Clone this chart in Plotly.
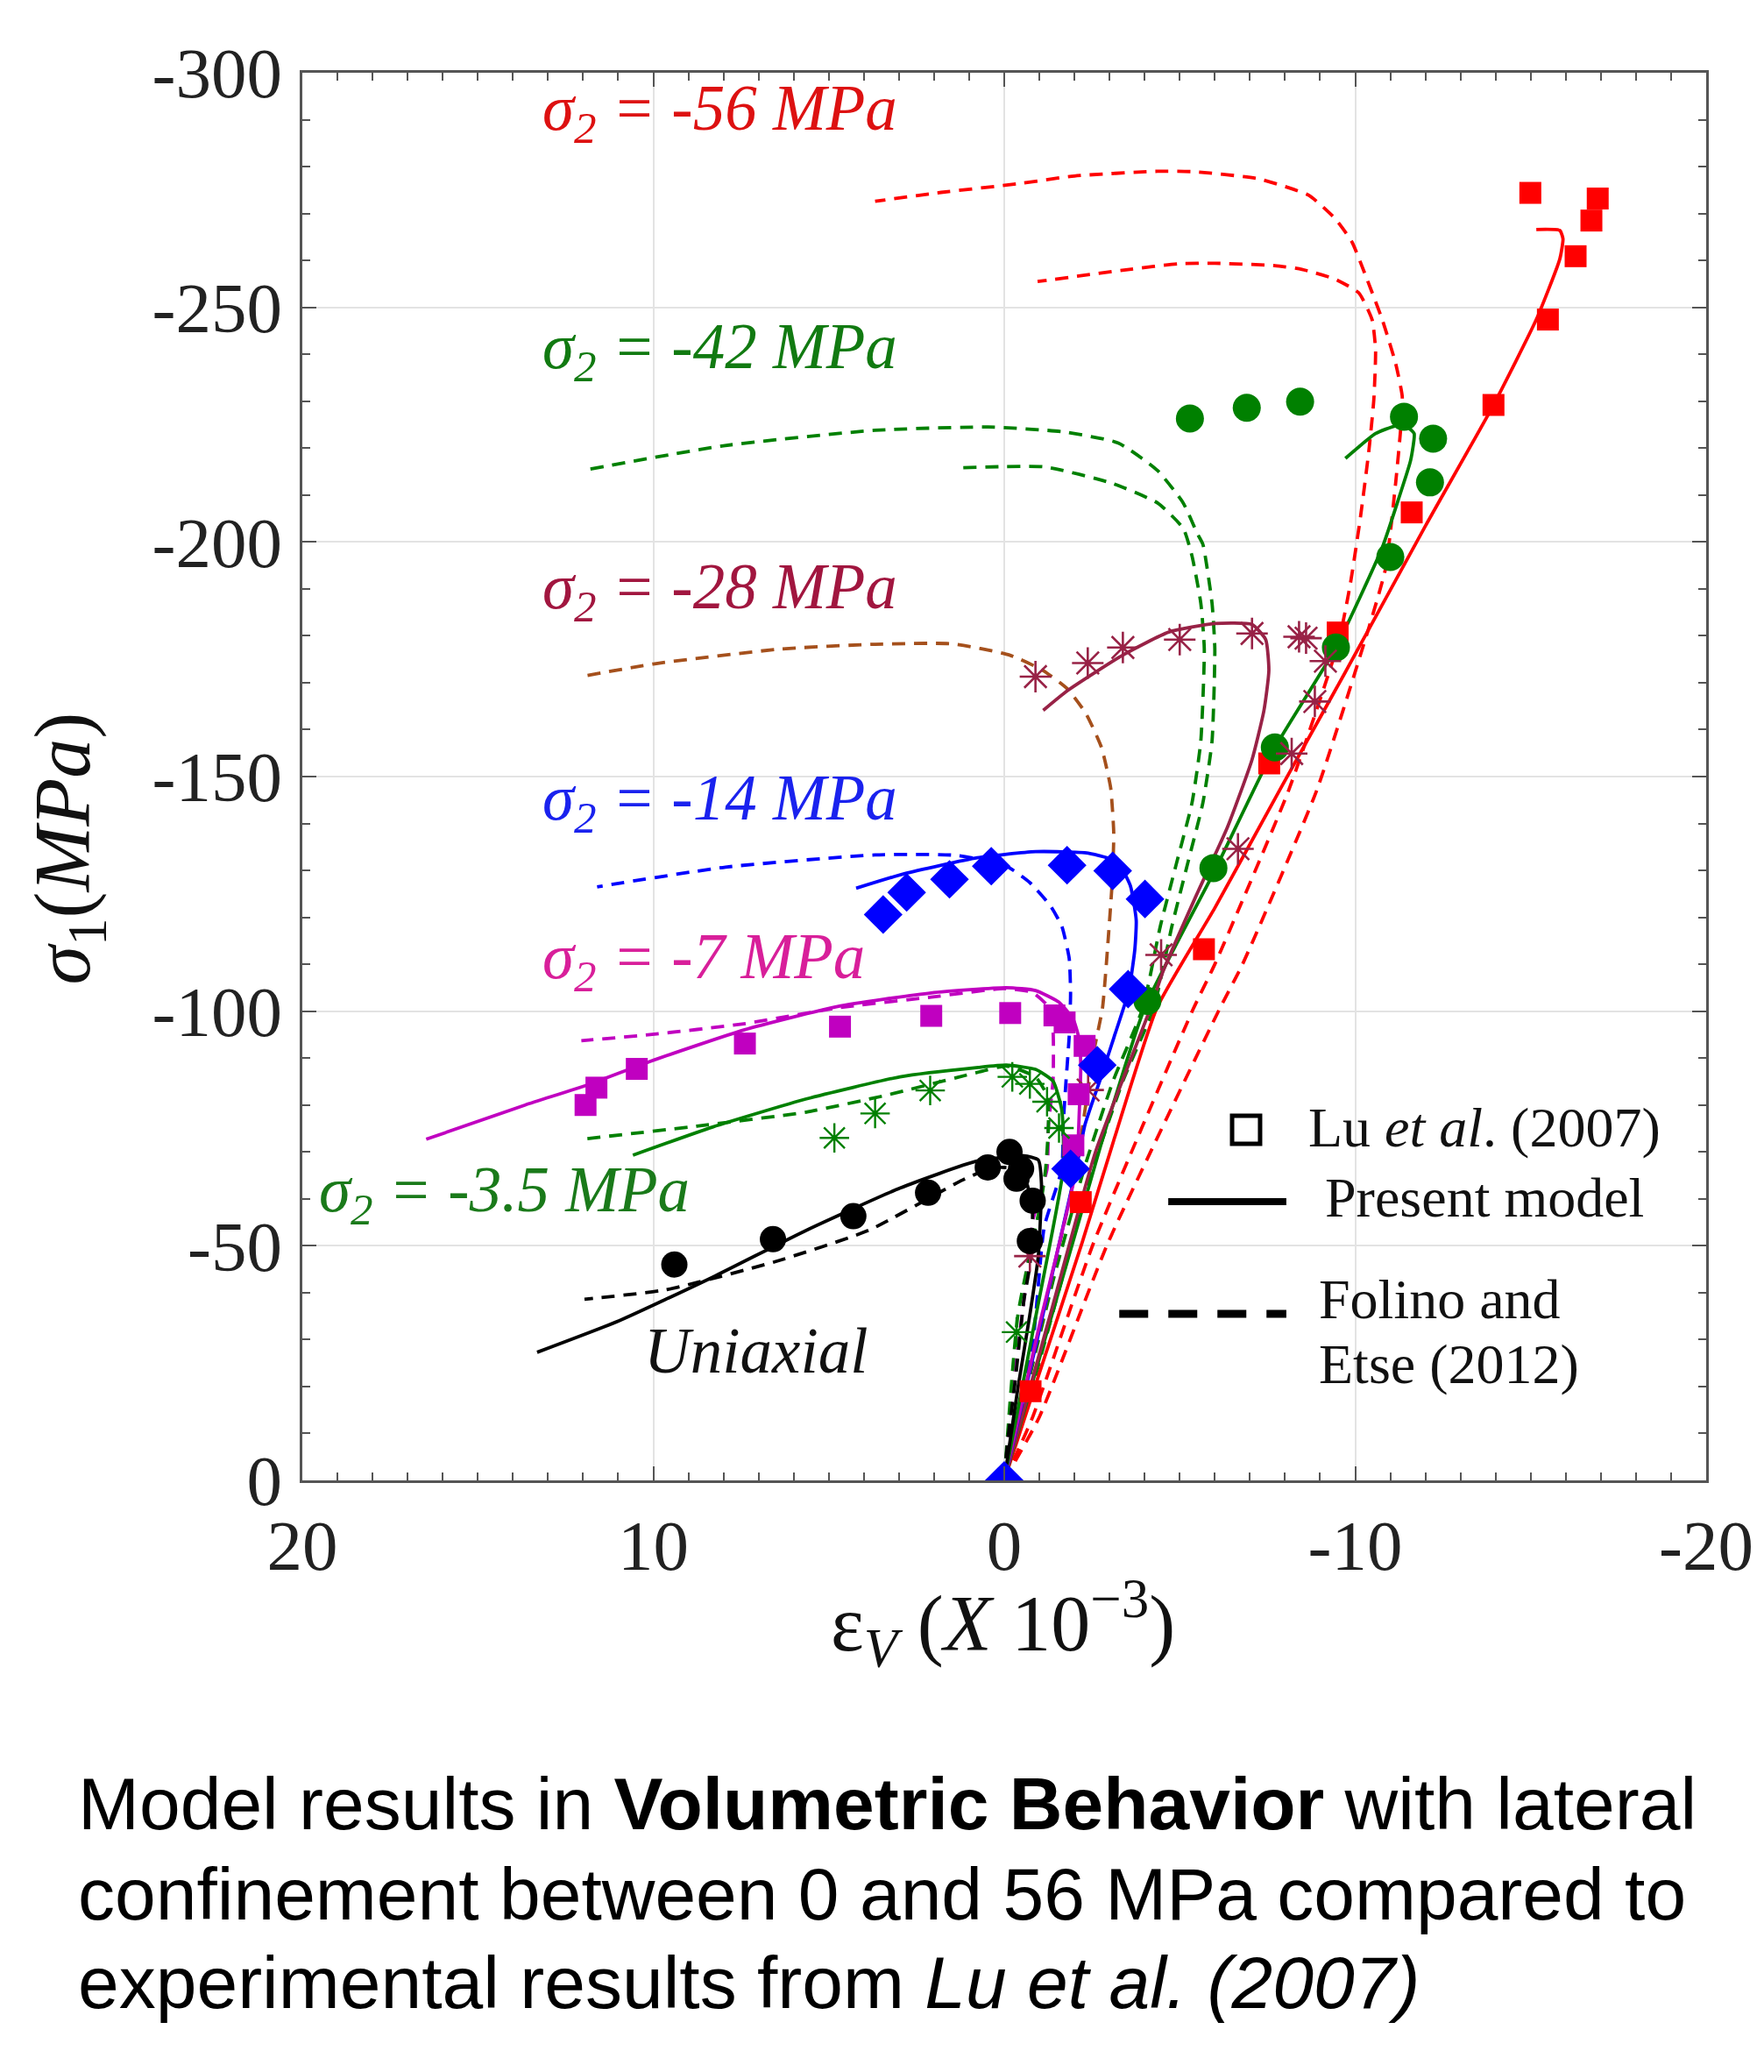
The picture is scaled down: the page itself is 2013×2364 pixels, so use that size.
import plotly.graph_objects as go

# ---------------- DATA (x: volumetric strain eps_V x1e-3, y: sigma_1 MPa) ----------------
# sigma2 = -56 MPa (red)
s56_exp_x = [-0.75, -2.18, -5.69, -7.55, -9.50, -11.61, -13.94, -15.49, -16.28, -16.73, -16.91, -14.99]
s56_exp_y = [-19.0, -59.3, -113.2, -152.8, -180.7, -206.3, -229.2, -247.4, -260.9, -268.5, -273.2, -274.4]
s56_model_x = [0, -0.81, -2.22, -3.13, -4.35, -6.00, -7.87, -9.70, -12.00, -13.94, -15.16, -15.83, -15.92, -15.83, -15.16]
s56_model_y = [0, -18.5, -50.7, -72.7, -100.7, -122.0, -147.4, -172.0, -203.4, -229.2, -247.4, -260.3, -264.6, -266.4, -266.6]
s56_folA_x = [0, -0.81, -2.55, -5.38, -6.0, -8.1, -9.53, -9.86, -10.15, -10.39, -10.53, -10.58, -10.48, -10.10, -9.43, -8.48, -7.71, -6.0, -5.0, -3.57, -0.95]
s56_folA_y = [0, -13.5, -50.7, -100.4, -110.0, -147.0, -178.8, -191.0, -205.3, -219.5, -230.3, -241.0, -247.4, -253.1, -256.0, -258.1, -258.9, -259.4, -259.3, -258.1, -255.5]
s56_folB_x = [0, -1.0, -2.96, -6.13, -6.79, -8.9, -10.4, -10.87, -11.15, -11.30, -11.34, -11.15, -10.77, -10.30, -9.91, -9.43, -8.67, -7.24, -5.43, -4.37, -2.0, -0.35, 1.8, 3.68]
s56_folB_y = [0, -13.5, -50.7, -100.4, -110.0, -147.0, -182.0, -194.5, -212.4, -224.5, -231.0, -238.1, -247.4, -256.7, -263.9, -268.9, -273.9, -277.4, -278.9, -279.0, -278.0, -276.3, -274.5, -272.6]

# sigma2 = -42 MPa (green)
s42_exp_x = [-4.08, -5.96, -7.71, -9.45, -11.00, -12.13, -12.22, -11.39, -8.43, -6.91, -5.29]
s42_exp_y = [-102.2, -130.5, -156.2, -177.5, -196.8, -212.7, -222.0, -226.7, -229.9, -228.6, -226.3]
s42_model_x = [0, -2.8, -4.0, -6.0, -7.7, -9.45, -10.77, -11.25, -11.58, -11.68, -11.53, -11.15, -10.58, -9.72]
s42_model_y = [0, -72.7, -100.7, -130.0, -156.0, -177.5, -198.8, -209.5, -217.4, -223.1, -224.2, -224.7, -223.1, -217.8]
s42_folA_x = [0, -0.8, -1.64, -2.55, -3.38, -4.26, -4.78, -5.22, -5.66, -5.92, -6.0, -5.92, -5.66, -5.5, -5.1, -4.37, -3.25, -1.64, 0.46, 3.68, 8.0, 11.84]
s42_folA_y = [0, -19.8, -42.8, -67.0, -85.1, -100.7, -118.2, -131.3, -144.4, -157.5, -177.2, -187.0, -199.5, -201.8, -208.3, -215.2, -221.1, -223.5, -224.5, -223.8, -220.5, -215.5]
s42_folB_x = [0, -0.65, -1.4, -2.3, -3.1, -3.95, -4.45, -4.9, -5.35, -5.6, -5.7, -5.6, -5.35, -5.1, -4.37, -3.08, -1.15, 1.19]
s42_folB_y = [0, -19.8, -42.8, -67.0, -85.1, -100.7, -118.2, -131.3, -144.4, -157.5, -177.2, -187.0, -197.0, -202.9, -208.3, -212.5, -216.0, -215.8]

# sigma2 = -28 MPa (maroon / brown)
s28_exp_x = [-0.73, -2.39, -4.47, -6.66, -8.19, -8.85, -9.15, -8.60, -8.40, -7.06, -5.00, -3.38, -2.38, -0.89]
s28_exp_y = [-47.8, -83.2, -112.0, -134.6, -154.9, -166.0, -174.6, -179.5, -179.8, -180.5, -179.2, -177.5, -174.2, -171.3]
s28_model_x = [0, -1.3, -2.6, -4.17, -4.52, -5.48, -6.36, -7.06, -7.40, -7.54, -7.45, -7.06, -6.0, -4.69, -3.38, -1.80, -1.11]
s28_model_y = [0, -35.0, -70.0, -100.7, -108.4, -124.8, -139.2, -153.6, -164.1, -172.6, -179.2, -182.4, -182.6, -180.8, -175.9, -168.3, -164.1]
s28_fol_x = [0, -1.2, -2.05, -2.3, -2.55, -2.8, -2.99, -3.08, -3.12, -3.03, -2.77, -2.33, -1.80, -1.11, -0.15, 1.5, 3.68, 6.35, 10.0, 12.07]
s28_fol_y = [0, -38.0, -66.4, -78.9, -91.3, -100.7, -118.2, -128.0, -137.9, -147.7, -156.2, -163.4, -168.7, -172.6, -175.9, -178.3, -178.2, -177.2, -174.0, -171.3]

# sigma2 = -14 MPa (blue)
s14_exp_x = [0, -1.89, -2.65, -3.53, -4.01, -3.09, -1.79, 0.37, 1.56, 2.78, 3.45]
s14_exp_y = [0, -66.4, -88.5, -104.7, -123.9, -129.9, -131.1, -130.9, -128.1, -125.3, -120.6]
s14_model_x = [0, -1.0, -2.05, -2.30, -2.72, -3.13, -3.55, -3.72, -3.76, -3.59, -3.22, -2.39, -0.89, 0.77, 2.85, 4.22]
s14_model_y = [0, -32.0, -66.4, -75.8, -85.1, -94.5, -104.4, -113.1, -119.4, -126.8, -131.8, -133.7, -134.0, -132.7, -129.3, -126.2]
s14_fol_x = [0, -0.81, -1.14, -1.64, -1.68, -1.76, -1.85, -1.89, -1.85, -1.64, -1.31, -0.73, -0.06, 1.35, 3.68, 7.94, 11.60]
s14_fol_y = [0, -29.1, -54.0, -66.4, -75.8, -85.1, -94.5, -103.8, -111.3, -118.1, -122.5, -127.4, -130.9, -133.2, -133.3, -130.7, -126.5]

# sigma2 = -7 MPa (magenta)
s7_exp_x = [-1.97, -2.12, -2.29, -1.72, -1.43, -0.17, 2.08, 4.68, 7.39, 10.47, 11.62, 11.93]
s7_exp_y = [-71.4, -82.3, -92.6, -97.6, -99.1, -99.6, -99.0, -96.7, -93.1, -87.7, -83.7, -80.0]
s7_model_x = [0, -1.0, -2.05, -2.14, -2.18, -2.14, -1.97, -1.56, -0.89, -0.06, 2.08, 4.75, 7.42, 10.09, 11.87, 13.65, 16.47]
s7_model_y = [0, -33.0, -66.4, -78.9, -88.2, -93.8, -98.2, -101.9, -104.4, -105.0, -103.9, -101.0, -96.0, -89.3, -84.3, -80.0, -72.7]
s7_fol_x = [0, -0.10, -0.27, -0.56, -0.81, -1.22, -1.26, -1.39, -1.39, -1.25, -0.80, 0.0, 2.08, 4.75, 7.42, 10.09, 12.05]
s7_fol_y = [0, -8.5, -21.0, -38.4, -55.2, -66.4, -75.8, -85.1, -95.7, -101.0, -104.0, -104.8, -103.0, -100.7, -97.3, -95.0, -93.7]

# sigma2 = -3.5 MPa (green)
s35_exp_x = [-0.35, -1.56, -1.22, -0.73, -0.23, 2.11, 3.68, 4.84]
s35_exp_y = [-31.6, -75.1, -80.7, -84.5, -86.0, -83.1, -78.2, -73.0]
s35_model_x = [0, -0.9, -1.68, -1.64, -1.39, -0.89, -0.06, 0.74, 2.97, 5.64, 8.31, 10.58]
s35_model_y = [0, -35.0, -66.4, -78.9, -85.1, -87.6, -88.5, -88.0, -86.0, -81.3, -75.3, -69.3]
s35_fol_x = [0, -0.39, -1.06, -1.18, -1.26, -1.22, -0.89, -0.06, 0.74, 3.41, 5.64, 8.76, 12.05]
s35_fol_y = [0, -35.3, -60.0, -66.4, -75.8, -82.0, -86.0, -88.3, -87.0, -82.0, -78.5, -75.5, -72.7]

# Uniaxial (black)
s0_exp_x = [-0.73, -0.81, -0.35, -0.48, -0.15, 0.47, 2.17, 4.30, 6.59, 9.40]
s0_exp_y = [-51.0, -59.6, -64.3, -66.4, -70.0, -66.7, -61.3, -56.3, -51.4, -46.0]
s0_model_x = [0, -0.39, -0.73, -0.97, -1.06, -0.97, -0.56, 0.8, 2.97, 5.64, 8.31, 10.98, 13.31]
s0_model_y = [0, -19.7, -35.3, -47.8, -63.3, -68.3, -69.2, -68.0, -62.3, -53.3, -43.3, -34.0, -27.3]
s0_fol_x = [0, -0.10, -0.31, -0.56, -0.73, -0.8, -0.5, 0.3, 1.19, 3.86, 6.53, 9.65, 11.96]
s0_fol_y = [0, -8.5, -21.0, -38.4, -45.9, -58.0, -66.0, -66.7, -64.0, -53.3, -46.6, -40.6, -38.6]

x_tick_vals = [20, 10, 0, -10, -20]
x_tick_text = ["20", "10", "0", "-10", "-20"]
y_tick_vals = [0, -50, -100, -150, -200, -250, -300]
y_tick_text = ["0", "-50", "-100", "-150", "-200", "-250", "-300"]

# ---------------- STYLE ----------------
RED = "#ff0000"
GREEN = "#008000"
MAROON = "#982246"
BROWN = "#a5501c"
BLUE = "#0000ff"
MAGENTA = "#c000c0"
BLACK = "#000000"
DASH = "15px,10px"

W, H = 2013, 2364
L, R, T, B = 345, 1950, 83, 1689  # plot area in pixels


def px(X):
    return (X - L) / (R - L)


def py(Y):
    return (B - Y) / (B - T)


fig = go.Figure()


def add_line(x, y, color, dashed=False, width=3.8):
    fig.add_trace(go.Scatter(x=x, y=y, mode="lines", showlegend=False, hoverinfo="skip",
                             line=dict(color=color, width=width, dash=DASH if dashed else "solid",
                                       shape="spline", smoothing=0.5)))


def add_markers(x, y, color, symbol, size, lw=0):
    m = dict(color=color, symbol=symbol, size=size)
    if "open" in symbol:
        m["line"] = dict(color=color, width=lw)
    else:
        m["line"] = dict(width=0)
    fig.add_trace(go.Scatter(x=x, y=y, mode="markers", showlegend=False, hoverinfo="skip", marker=m))


# Folino & Etse (dashed)
add_line(s56_folA_x, s56_folA_y, RED, True)
add_line(s56_folB_x, s56_folB_y, RED, True)
add_line(s42_folA_x, s42_folA_y, GREEN, True)
add_line(s42_folB_x, s42_folB_y, GREEN, True)
add_line(s28_fol_x, s28_fol_y, BROWN, True)
add_line(s14_fol_x, s14_fol_y, BLUE, True)
add_line(s7_fol_x, s7_fol_y, MAGENTA, True)
add_line(s35_fol_x, s35_fol_y, GREEN, True)
add_line(s0_fol_x, s0_fol_y, BLACK, True)

# Present model (solid)
add_line(s56_model_x, s56_model_y, RED)
add_line(s42_model_x, s42_model_y, GREEN)
add_line(s28_model_x, s28_model_y, MAROON)
add_line(s14_model_x, s14_model_y, BLUE)
add_line(s7_model_x, s7_model_y, MAGENTA)
add_line(s35_model_x, s35_model_y, GREEN)
add_line(s0_model_x, s0_model_y, BLACK)

# Experimental (Lu et al. 2007)
add_markers(s56_exp_x, s56_exp_y, RED, "square", 25)
add_markers(s42_exp_x, s42_exp_y, GREEN, "circle", 32)
add_markers(s28_exp_x, s28_exp_y, MAROON, "asterisk-open", 30, 2.6)
add_markers(s7_exp_x, s7_exp_y, MAGENTA, "square", 25)
add_markers(s35_exp_x, s35_exp_y, GREEN, "asterisk-open", 28, 2.4)
add_markers(s0_exp_x, s0_exp_y, BLACK, "circle", 30)
add_markers(s14_exp_x, s14_exp_y, BLUE, "diamond", 34)

TICKFONT = dict(family="Liberation Serif", size=81, color="#222222")
axis_common = dict(showline=True, linecolor="#555555", linewidth=2.5, mirror="ticks",
                   ticks="inside", ticklen=16, tickwidth=2, tickcolor="#555555",
                   showgrid=True, gridcolor="#e3e3e3", gridwidth=2, zeroline=False,
                   tickfont=TICKFONT, tickmode="array")

fig.update_xaxes(range=[20, -20], tickvals=x_tick_vals, ticktext=x_tick_text,
                 minor=dict(tickmode="array", tickvals=[v for v in range(-19, 20) if v % 10],
                            ticks="inside", ticklen=9, tickwidth=1.5, tickcolor="#555555", showgrid=False),
                 ticklabelstandoff=2, **axis_common)
fig.update_yaxes(range=[0, -300], tickvals=y_tick_vals, ticktext=y_tick_text,
                 minor=dict(tickmode="array", tickvals=[v for v in range(-290, 0, 10) if v % 50],
                            ticks="inside", ticklen=9, tickwidth=1.5, tickcolor="#555555", showgrid=False),
                 ticklabelstandoff=4, **axis_common)

ann = []
SERIF = "Liberation Serif"
# curve labels
labels = [
    ("<i>σ<sub>2</sub> = -56 MPa</i>", 618, 128, "#dd1111"),
    ("<i>σ<sub>2</sub> = -42 MPa</i>", 618, 400, "#117a11"),
    ("<i>σ<sub>2</sub> = -28 MPa</i>", 618, 674, "#a1163f"),
    ("<i>σ<sub>2</sub> = -14 MPa</i>", 618, 915, "#1a22ee"),
    ("<i>σ<sub>2</sub> = -7 MPa</i>", 618, 1096, "#d81f9a"),
    ("<i>σ<sub>2</sub> = -3.5 MPa</i>", 362, 1362, "#1a7a1a"),
    ("<i>Uniaxial</i>", 734, 1541, "#111111"),
]
for txt, X, Y, c in labels:
    ann.append(dict(text=txt, x=px(X), y=py(Y), xref="paper", yref="paper", xanchor="left",
                    yanchor="middle", showarrow=False, font=dict(family=SERIF, size=73, color=c)))

# legend texts
LEGF = dict(family=SERIF, size=64, color="#111111")
ann.append(dict(text="Lu <i>et al</i>. (2007)", x=px(1493), y=py(1286), xref="paper", yref="paper",
                xanchor="left", yanchor="middle", showarrow=False, font=LEGF))
ann.append(dict(text="Present model", x=px(1512), y=py(1366), xref="paper", yref="paper",
                xanchor="left", yanchor="middle", showarrow=False, font=LEGF))
ann.append(dict(text="Folino and", x=px(1505), y=py(1482), xref="paper", yref="paper",
                xanchor="left", yanchor="middle", showarrow=False, font=LEGF))
ann.append(dict(text="Etse (2012)", x=px(1505), y=py(1556), xref="paper", yref="paper",
                xanchor="left", yanchor="middle", showarrow=False, font=LEGF))

# axis titles
ann.append(dict(text="<i>σ</i><sub>1</sub>(<i>MPa</i>)", x=px(78), y=py(968), xref="paper", yref="paper",
                xanchor="center", yanchor="middle", textangle=-90, showarrow=False,
                font=dict(family=SERIF, size=90, color="#111111")))
ann.append(dict(text="ε<sub><i>V</i></sub> (<i>X</i> 10<sup>−3</sup>)", x=px(1146), y=py(1852),
                xref="paper", yref="paper", xanchor="center", yanchor="middle", showarrow=False,
                font=dict(family=SERIF, size=90, color="#111111")))

# caption
CAPF = dict(family="Liberation Sans", size=84, color="#000000")
caption = [
    ("Model results in <b>Volumetric Behavior</b> with lateral", 2058),
    ("confinement between 0 and 56 MPa compared to", 2161),
    ("experimental results from <i>Lu et al. (2007)</i>", 2262),
]
for txt, Y in caption:
    ann.append(dict(text=txt, x=px(87), y=py(Y), xref="paper", yref="paper", xanchor="left",
                    yanchor="middle", showarrow=False, font=CAPF))

shapes = [
    # legend: open square
    dict(type="rect", xref="paper", yref="paper", x0=px(1408), x1=px(1440), y0=py(1305), y1=py(1273),
         line=dict(color="#000000", width=5), fillcolor="rgba(0,0,0,0)"),
    # legend: solid line
    dict(type="line", xref="paper", yref="paper", x0=px(1335), x1=px(1470), y0=py(1371), y1=py(1371),
         line=dict(color="#000000", width=8)),
    # legend: dashed line
    dict(type="line", xref="paper", yref="paper", x0=px(1279), x1=px(1470), y0=py(1499), y1=py(1499),
         line=dict(color="#000000", width=9, dash="33px,23px")),
]

fig.update_layout(width=W, height=H, autosize=False,
                  margin=dict(l=L, r=W - R, t=T, b=H - B, pad=0),
                  paper_bgcolor="white", plot_bgcolor="white",
                  annotations=ann, shapes=shapes, showlegend=False)

fig.write_html("out.html")
